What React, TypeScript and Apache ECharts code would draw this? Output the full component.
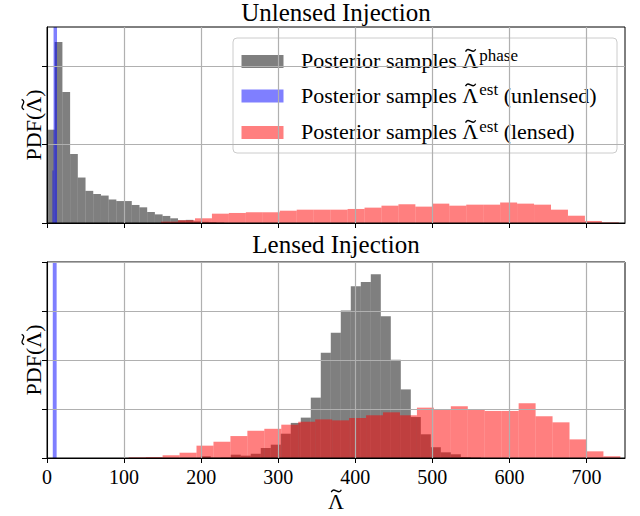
import React, { useEffect, useRef } from 'react';
import * as echarts from 'echarts';

// ---- tick values ----
const X_TICKS = [0, 100, 200, 300, 400, 500, 600, 700];
const TOP_Y_TICKS = [0, 10, 20];
const BOTTOM_Y_TICKS = [0, 2.5, 5, 7.5, 10];

// ---- Unlensed injection (top panel); densities in units of 1e-3 ----
const TOP_PHASE_START = 0;
const TOP_PHASE_WIDTH = 10;
const TOP_PHASE = [11.9, 23.1, 16.7, 8.8, 5.8, 4.1, 3.7, 3.5, 3.0, 2.8, 2.8, 2.3, 2.0, 1.4, 1.1, 0.9, 0.6, 0.35, 0.4, 0.2, 0.15, 0.1, 0.05];

const TOP_UNLENSED_EDGES = [7, 8.5, 13];
const TOP_UNLENSED = [6.7, 200];

const TOP_LENSED_START = 148;
const TOP_LENSED_WIDTH = 22;
const TOP_LENSED = [0.17, 0.35, 0.6, 1.19, 1.28, 1.37, 1.37, 1.57, 1.7, 1.7, 1.7, 1.79, 1.96, 2.21, 2.39, 2.09, 2.47, 2.21, 2.34, 2.34, 2.6, 2.47, 2.34, 1.7, 0.93, 0.26, 0.09];

// ---- Lensed injection (bottom panel); densities in units of 1e-3 ----
const BOT_PHASE_START = 199.5;
const BOT_PHASE_WIDTH = 12.98;
const BOT_PHASE = [0.09, 0.02, 0.03, 0.17, 0.12, 0.22, 0.51, 0.68, 1.24, 1.79, 2.06, 3.08, 5.37, 6.39, 7.53, 8.76, 8.98, 9.37, 7.23, 5.01, 3.5, 2.09, 1.21, 0.55, 0.29, 0.19, 0.05, 0.03];

const BOT_UNLENSED_EDGES = [7.5, 12.5];
const BOT_UNLENSED = [200];

const BOT_LENSED_START = 106;
const BOT_LENSED_WIDTH = 22;
const BOT_LENSED = [0.036, 0.051, 0.14, 0.27, 0.63, 0.83, 1.12, 1.39, 1.49, 1.7, 1.85, 1.97, 1.92, 2.04, 2.18, 2.33, 2.18, 2.57, 2.46, 2.64, 2.46, 2.4, 2.4, 2.79, 2.13, 1.82, 0.95, 0.34, 0.09];

const SERIES_NAMES = [
  'Posterior samples Λ̃ phase',
  'Posterior samples Λ̃ est (unlensed)',
  'Posterior samples Λ̃ est (lensed)',
];
const LEGEND_SUPS = ['phase', 'est', 'est'];
const LEGEND_TAILS = ['', ' (unlensed)', ' (lensed)'];

const GRAY = 'rgba(0,0,0,0.5)';
const BLUE = 'rgba(0,0,255,0.5)';
const RED = 'rgba(255,0,0,0.5)';
const COLORS = [GRAY, BLUE, RED];
const FAMILY = 'Liberation Serif';
const FONT = "'Liberation Serif', 'DejaVu Serif', serif";

const binsFromStart = (start: number, width: number, values: number[]) =>
  values.map((v, i) => [start + i * width, start + (i + 1) * width, v]);
const binsFromEdges = (edges: number[], values: number[]) =>
  values.map((v, i) => [edges[i], edges[i + 1], v]);

let measureCtx: CanvasRenderingContext2D | null = null;
const measure = (text: string, size: number) => {
  if (!measureCtx) measureCtx = document.createElement('canvas').getContext('2d');
  measureCtx!.font = `${size}px '${FAMILY}'`;
  return measureCtx!.measureText(text).width;
};

type Piece = { text: string; size: number; dy?: number; tilde?: boolean; gap?: number };

// A small tilde accent drawn as a curve, centred at (cx, cy).
const tildeShape = (cx: number, cy: number, size: number) => {
  const hw = size * 0.23;
  const a = size * 0.16;
  return {
    type: 'bezierCurve',
    shape: {
      x1: cx - hw, y1: cy + a * 0.35,
      cpx1: cx - hw * 0.45, cpy1: cy - a * 1.4,
      cpx2: cx + hw * 0.45, cpy2: cy + a * 1.4,
      x2: cx + hw, y2: cy - a * 0.35,
    },
    style: { stroke: '#000', lineWidth: size * 0.06, fill: 'none' },
  };
};

// Lays out a run of text pieces horizontally (centre line at y = 0), adding a tilde over Λ.
const textRun = (pieces: Piece[], startX: number) => {
  const children: any[] = [];
  let x = startX;
  pieces.forEach((p) => {
    const w = measure(p.text, p.size);
    const dy = p.dy || 0;
    children.push({
      type: 'text',
      x,
      y: dy,
      style: { text: p.text, fontSize: p.size, fontFamily: FONT, fill: '#000', align: 'left', verticalAlign: 'middle' },
    });
    if (p.tilde) children.push(tildeShape(x + w / 2 + 0.3, dy - 0.46 * p.size, p.size));
    x += w + (p.gap || 0);
  });
  return { children, width: x - startX };
};

const centeredRun = (pieces: Piece[]) => {
  const total = textRun(pieces, 0).width;
  return textRun(pieces, -total / 2).children;
};

const makeRender = (color: string) => (params: any, api: any) => {
  const x0 = api.value(0);
  const x1 = api.value(1);
  const h = api.value(2);
  const pBase = api.coord([x0, 0]);
  const pTop = api.coord([x1, h]);
  const cs = params.coordSys;
  const yTop = Math.max(pTop[1], cs.y);
  return {
    type: 'rect',
    shape: { x: pBase[0], y: yTop, width: pTop[0] - pBase[0], height: pBase[1] - yTop },
    style: { fill: color },
  };
};

const histSeries = (name: string, data: number[][], color: string, axis: number) => ({
  type: 'custom',
  name,
  xAxisIndex: axis,
  yAxisIndex: axis,
  data,
  encode: { x: [0, 1], y: 2 },
  renderItem: makeRender(color),
  itemStyle: { color },
  clip: true,
  silent: true,
  z: 2,
});

const xAxisBase = (gridIndex: number, showLabels: boolean) => ({
  type: 'value',
  gridIndex,
  min: 0,
  max: 750,
  interval: 100,
  z: 10,
  axisLine: { show: true, onZero: false, lineStyle: { color: '#000', width: 1 } },
  axisTick: { show: true, inside: false, length: 5, customValues: X_TICKS, lineStyle: { color: '#000', width: 1 } },
  axisLabel: {
    show: showLabels,
    customValues: X_TICKS,
    margin: 9,
    color: '#000',
    fontSize: 20,
    fontFamily: FONT,
  },
  splitLine: { show: true, lineStyle: { color: '#b0b0b0', width: 1.2 } },
});

const yAxisBase = (gridIndex: number, max: number, interval: number, ticks: number[]) => ({
  type: 'value',
  gridIndex,
  min: 0,
  max,
  interval,
  z: 10,
  axisLine: { show: true, onZero: false, lineStyle: { color: '#000', width: 1 } },
  axisTick: { show: true, inside: false, length: 5, customValues: ticks, lineStyle: { color: '#000', width: 1 } },
  axisLabel: { show: false },
  splitLine: { show: true, lineStyle: { color: '#b0b0b0', width: 1.2 } },
});

const PDF_PIECES: Piece[] = [
  { text: 'PDF(', size: 22 },
  { text: 'Λ', size: 22, tilde: true },
  { text: ')', size: 22 },
];

const legendRow = (i: number, y: number) => [
  { type: 'rect', shape: { x: 8.5, y: y - 6.5, width: 42, height: 13 }, style: { fill: COLORS[i] } },
  {
    type: 'group',
    x: 0,
    y: y - 1,
    children: textRun(
      [
        { text: 'Posterior samples ', size: 22 },
        { text: 'Λ', size: 22, tilde: true, gap: 1 },
        { text: LEGEND_SUPS[i], size: 17, dy: -5.5 },
        ...(LEGEND_TAILS[i] ? [{ text: LEGEND_TAILS[i], size: 22 }] : []),
      ],
      68
    ).children,
  },
];

export default function App() {
  const ref = useRef<HTMLDivElement>(null);
  useEffect(() => {
    if (!ref.current) return;
    const chart = echarts.init(ref.current, undefined, { renderer: 'svg' });
    const option: any = {
      animation: false,
      backgroundColor: '#fff',
      title: [
        {
          text: 'Unlensed Injection',
          left: 336,
          top: 0,
          padding: 0,
          textAlign: 'center',
          textStyle: { fontSize: 25, fontWeight: 'normal', color: '#000', fontFamily: FONT },
        },
        {
          text: 'Lensed Injection',
          left: 336,
          top: 232,
          padding: 0,
          textAlign: 'center',
          textStyle: { fontSize: 25, fontWeight: 'normal', color: '#000', fontFamily: FONT },
        },
      ],
      grid: [
        { left: 47, top: 27, width: 578, height: 196, containLabel: false, outerBoundsMode: 'none', show: true, borderColor: '#000', borderWidth: 1, backgroundColor: 'transparent', z: 10 },
        { left: 47, top: 262, width: 578, height: 196, containLabel: false, outerBoundsMode: 'none', show: true, borderColor: '#000', borderWidth: 1, backgroundColor: 'transparent', z: 10 },
      ],
      xAxis: [xAxisBase(0, false), xAxisBase(1, true)],
      yAxis: [yAxisBase(0, 25, 10, TOP_Y_TICKS), yAxisBase(1, 10, 2.5, BOTTOM_Y_TICKS)],
      series: [
        histSeries(SERIES_NAMES[0], binsFromStart(TOP_PHASE_START, TOP_PHASE_WIDTH, TOP_PHASE), GRAY, 0),
        histSeries(SERIES_NAMES[1], binsFromEdges(TOP_UNLENSED_EDGES, TOP_UNLENSED), BLUE, 0),
        histSeries(SERIES_NAMES[2], binsFromStart(TOP_LENSED_START, TOP_LENSED_WIDTH, TOP_LENSED), RED, 0),
        histSeries(SERIES_NAMES[0], binsFromStart(BOT_PHASE_START, BOT_PHASE_WIDTH, BOT_PHASE), GRAY, 1),
        histSeries(SERIES_NAMES[1], binsFromEdges(BOT_UNLENSED_EDGES, BOT_UNLENSED), BLUE, 1),
        histSeries(SERIES_NAMES[2], binsFromStart(BOT_LENSED_START, BOT_LENSED_WIDTH, BOT_LENSED), RED, 1),
      ],
      graphic: [
        // y-axis labels (rotated)
        { type: 'group', x: 33, y: 125, rotation: Math.PI / 2, z: 100, children: centeredRun(PDF_PIECES) },
        { type: 'group', x: 33, y: 360, rotation: Math.PI / 2, z: 100, children: centeredRun(PDF_PIECES) },
        // x-axis label
        { type: 'group', x: 336, y: 501, z: 100, children: centeredRun([{ text: 'Λ', size: 22, tilde: true }]) },
        // legend
        {
          type: 'group',
          x: 233,
          y: 38,
          z: 100,
          children: [
            {
              type: 'rect',
              shape: { x: 0, y: 0, width: 384, height: 115, r: 4 },
              style: { fill: 'rgba(255,255,255,0.8)', stroke: '#cccccc', lineWidth: 1 },
            },
            ...legendRow(0, 23.5),
            ...legendRow(1, 58),
            ...legendRow(2, 94.5),
          ],
        },
      ],
    };
    chart.setOption(option);
    return () => chart.dispose();
  }, []);
  return <div ref={ref} style={{ position: 'fixed', left: 0, top: 0, width: 640, height: 516 }} />;
}
